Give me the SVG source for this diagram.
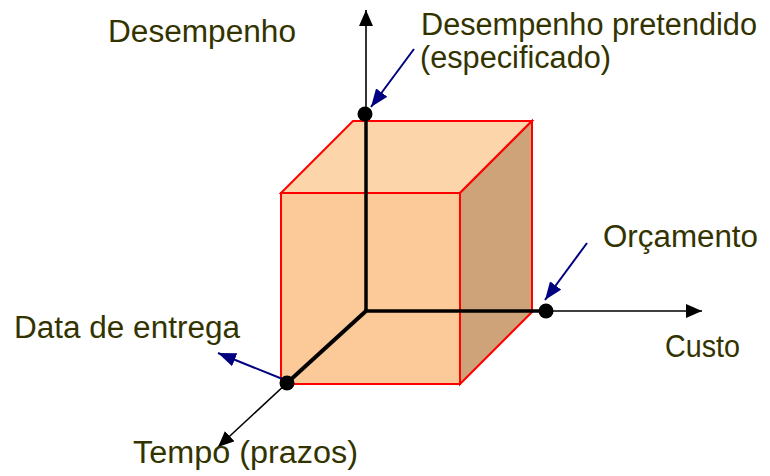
<svg xmlns="http://www.w3.org/2000/svg" width="770" height="476" viewBox="0 0 770 476">
<style>
.lbl{font-family:"Liberation Sans",Arial,sans-serif;font-size:31px;fill:#333300}
.edge{stroke:#FF0000;stroke-width:2;stroke-linejoin:miter}
.ax{stroke:#000;fill:none}
.pt{stroke:#000080;stroke-width:2;fill:none}
</style>
<defs>
<marker id="ah" viewBox="0 0 16 14" refX="16" refY="7" markerWidth="16" markerHeight="14" markerUnits="userSpaceOnUse" orient="auto"><path d="M0,0 L16,7 L0,14 Z" fill="#000"/></marker>
<marker id="nh" viewBox="0 0 18 14" refX="18" refY="7" markerWidth="18" markerHeight="14" markerUnits="userSpaceOnUse" orient="auto"><path d="M0,0 L18,7 L0,14 Z" fill="#000080"/></marker>
</defs>
<rect width="770" height="476" fill="#fff"/>
<g id="cube">
<polygon class="edge" fill="#FDD5AA" points="281,193 353,121 532,121 460,193"/>
<polygon class="edge" fill="#CEA37A" points="460,193 532,121 532,312 460,384"/>
<rect class="edge" fill="#FCC999" x="281" y="193" width="179" height="191"/>
</g>
<g id="connectors">
<line class="ax" x1="366" y1="311" x2="366" y2="114" stroke-width="3.5"/>
<line class="ax" x1="366" y1="114" x2="366" y2="10" stroke-width="1.6" marker-end="url(#ah)"/>
<line class="ax" x1="364" y1="311" x2="546" y2="311" stroke-width="3.5"/>
<line class="ax" x1="546" y1="311" x2="702" y2="311" stroke-width="1.6" marker-end="url(#ah)"/>
<line class="ax" x1="366" y1="311" x2="287" y2="383" stroke-width="4"/>
<line class="ax" x1="287" y1="383" x2="218" y2="447" stroke-width="1.6" marker-end="url(#ah)"/>
<line class="pt" x1="414" y1="49" x2="371" y2="107" marker-end="url(#nh)"/>
<line class="pt" x1="587" y1="243" x2="545" y2="300" marker-end="url(#nh)"/>
<line class="pt" x1="285" y1="380" x2="218" y2="353" marker-end="url(#nh)"/>
</g>
<g id="points">
<circle cx="365" cy="114" r="7.5" fill="#000"/>
<circle cx="546" cy="311" r="7.5" fill="#000"/>
<circle cx="287" cy="383" r="7.5" fill="#000"/>
</g>
<g id="labels">
<text class="lbl" x="108" y="42" textLength="188" lengthAdjust="spacingAndGlyphs">Desempenho</text>
<text class="lbl" x="421" y="35" textLength="336" lengthAdjust="spacingAndGlyphs">Desempenho pretendido</text>
<text class="lbl" x="420" y="68" textLength="191" lengthAdjust="spacingAndGlyphs">(especificado)</text>
<text class="lbl" x="603" y="247" textLength="155" lengthAdjust="spacingAndGlyphs">Orçamento</text>
<text class="lbl" x="665" y="357" textLength="75" lengthAdjust="spacingAndGlyphs">Custo</text>
<text class="lbl" x="14" y="338" textLength="226" lengthAdjust="spacingAndGlyphs">Data de entrega</text>
<text class="lbl" x="133" y="463" textLength="225" lengthAdjust="spacingAndGlyphs">Tempo (prazos)</text>
</g>
</svg>
